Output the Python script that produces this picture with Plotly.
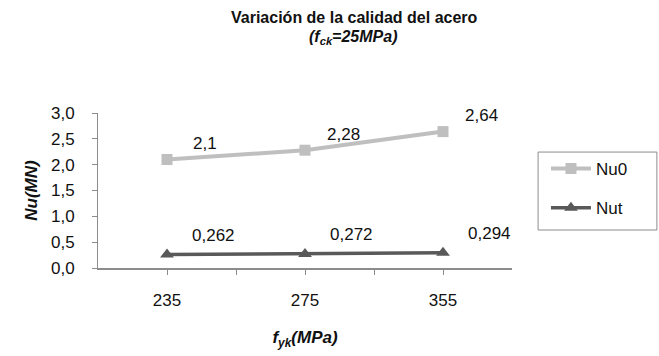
import plotly.graph_objects as go

# Steel grade (fyk, MPa) and ultimate axial loads (MN)
categories = ["235", "275", "355"]
nu0_values = [2.1, 2.28, 2.64]
nut_values = [0.262, 0.272, 0.294]
y_ticks = [0.0, 0.5, 1.0, 1.5, 2.0, 2.5, 3.0]

xpos = list(range(len(categories)))

NU0_COLOR = "#bfbfbf"
NUT_COLOR = "#595959"
AXIS_COLOR = "#8c8c8c"
FONT = "Liberation Sans, Arial, sans-serif"
TXT = "#111111"

fig = go.Figure()
fig.add_trace(go.Scatter(
    x=xpos, y=nu0_values, name="Nu0", mode="lines+markers",
    line=dict(color=NU0_COLOR, width=4),
    marker=dict(symbol="square", size=11, color=NU0_COLOR),
    legendgroup="a",
))
fig.add_trace(go.Scatter(
    x=xpos, y=nut_values, name="Nut", mode="lines+markers",
    line=dict(color=NUT_COLOR, width=3.5),
    marker=dict(symbol="triangle-up", size=12, color=NUT_COLOR),
    legendgroup="b",
))

def fmt(v):
    return f"{v:g}".replace(".", ",")

annotations = []
for xv, v in zip(xpos, nu0_values):
    annotations.append(dict(x=xv, y=v, text=fmt(v), showarrow=False,
                            xshift=38, yshift=16,
                            font=dict(size=17, color=TXT, family=FONT)))
for xv, v in zip(xpos, nut_values):
    annotations.append(dict(x=xv, y=v, text=fmt(v), showarrow=False,
                            xshift=46, yshift=19,
                            font=dict(size=17, color=TXT, family=FONT)))

# Chart title (two lines)
annotations.append(dict(
    xref="paper", yref="paper", x=0.62, y=1.613, xanchor="center", yanchor="middle",
    text="<b>Variación de la calidad del acero</b>", showarrow=False,
    font=dict(size=16, family=FONT, color=TXT)))
annotations.append(dict(
    xref="paper", yref="paper", x=0.615, y=1.49, xanchor="center", yanchor="middle",
    text="<b><i>(f<sub>ck</sub>=25MPa)</i></b>", showarrow=False,
    font=dict(size=16, family=FONT, color=TXT)))

fig.update_layout(
    width=659, height=356,
    margin=dict(l=98, r=147, t=113, b=88),
    paper_bgcolor="white", plot_bgcolor="white",
    separators=",.",
    font=dict(family=FONT, color=TXT),
    xaxis=dict(
        range=[-0.5, len(categories) - 0.5],
        tickvals=xpos, ticktext=categories,
        ticks="outside", ticklen=5, tickcolor=AXIS_COLOR,
        minor=dict(tickvals=[0.5, 1.5], ticks="outside", ticklen=5, tickcolor=AXIS_COLOR),
        showline=True, linecolor=AXIS_COLOR, linewidth=2,
        showgrid=False, zeroline=False, automargin=False,
        ticklabelstandoff=11,
        tickfont=dict(size=17, family=FONT, color=TXT),
        title=dict(text="<b><i>f<sub>yk</sub>(MPa)</i></b>", standoff=22,
                   font=dict(size=17, family=FONT, color=TXT)),
    ),
    yaxis=dict(
        range=[0, 3], tickvals=y_ticks, tickformat=".1f",
        ticks="outside", ticklen=5, tickcolor=AXIS_COLOR,
        showline=True, linecolor=AXIS_COLOR, linewidth=1,
        showgrid=False, zeroline=False, automargin=False,
        ticklabelstandoff=14,
        tickfont=dict(size=17, family=FONT, color=TXT),
        title=dict(text="<b><i>Nu(MN)</i></b>", standoff=9,
                   font=dict(size=17, family=FONT, color=TXT)),
    ),
    legend=dict(
        x=1.082, y=0.755, xanchor="left", yanchor="top",
        borderwidth=0, bgcolor="rgba(0,0,0,0)",
        font=dict(size=17, family=FONT, color=TXT),
        tracegroupgap=14, itemwidth=40,
    ),
    # Legend frame
    shapes=[dict(type="rect", xref="paper", yref="paper",
                 x0=1.063, x1=1.350, y0=0.245, y1=0.748,
                 line=dict(color="#8c8c8c", width=1), layer="below")],
    annotations=annotations,
)

fig.write_html("out.html")
